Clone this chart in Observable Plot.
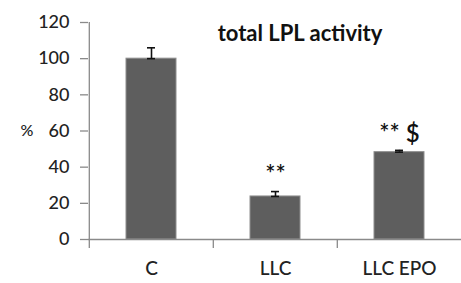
<!DOCTYPE html>
<html>
<head>
<meta charset="utf-8">
<script src="https://cdn.jsdelivr.net/npm/d3@7"></script>
<script src="https://cdn.jsdelivr.net/npm/@observablehq/plot@0.6"></script>
<style>
  html, body { margin: 0; padding: 0; background: #fff; }
  #chart svg { display: block; }
</style>
</head>
<body>
<div id="chart"></div>
<script>
const categories = ["C", "LLC", "LLC EPO"];
const values = [100, 23.8, 48.3];
const errors = [6, 2.7, 1];
const marks = ["", "**", "** $"];
const yTicks = [0, 20, 40, 60, 80, 100, 120];
const title = "total LPL activity";
const yLabel = "%";

const data = categories.map((c, i) => ({cat: c, value: values[i], err: errors[i], top: values[i] + errors[i], mark: marks[i]}));

const font = "Lato, 'Open Sans', sans-serif";
const axisColor = "#8a8a8a";

const chart = Plot.plot({
  width: 461,
  height: 283,
  marginLeft: 88,
  marginRight: 0,
  marginTop: 22,
  marginBottom: 44,
  style: {fontFamily: font, background: "#fff", overflow: "visible"},
  x: {domain: categories, paddingInner: 0.6, paddingOuter: 0.3, axis: null},
  y: {domain: [0, 120], axis: null},
  marks: [
    Plot.barY(data, {x: "cat", y: "value", fill: "#5e5e5e", stroke: "#8e8e8e", strokeWidth: 1}),
    // error bars
    Plot.ruleX(data, {x: "cat", y1: "value", y2: "top", stroke: "#111", strokeWidth: 1.6}),
    Plot.tickY(data, {x: "cat", y: "top", stroke: "#111", strokeWidth: 1.6, insetLeft: 21, insetRight: 21}),
    Plot.tickY(data, {x: "cat", y: "value", stroke: "#111", strokeWidth: 1.6, insetLeft: 21, insetRight: 21}),
    // x axis line
    Plot.ruleY([0], {stroke: axisColor, strokeWidth: 1.3}),
    // category boundary ticks
    Plot.ruleX(categories.slice(1), {x: d => d, dx: -62.2, y1: 0, y2: -5, stroke: axisColor, strokeWidth: 1.3}),
    // y axis line
    Plot.ruleX([categories[0]], {x: d => d, dx: -62.2, y1: -5, y2: 120, stroke: axisColor, strokeWidth: 1.3}),
    Plot.axisY({ticks: yTicks, tickSize: 8, tickPadding: 11, stroke: axisColor, strokeWidth: 1.3, fill: "#222", fontSize: 18, fontWeight: 500, tickFormat: d => d, label: null}),
    Plot.axisX({tickSize: 0, tickPadding: 22, fill: "#222", fontSize: 19, fontWeight: 500, label: null}),
    // significance marks
    Plot.text(data, {x: "cat", y: "top", text: "mark", dy: -16, fontSize: 24, fontWeight: 600, fill: "#111", lineAnchor: "middle"}),
    // y label
    Plot.text([yLabel], {frameAnchor: "left", dx: -68, fontSize: 16, fontWeight: 500, fill: "#222", text: d => d}),
    // title
    Plot.text([title], {frameAnchor: "top", dx: 25, dy: 3, fontSize: 22, fontWeight: "bold", fill: "#111", text: d => d})
  ]
});
document.getElementById("chart").appendChild(chart);
</script>
</body>
</html>
